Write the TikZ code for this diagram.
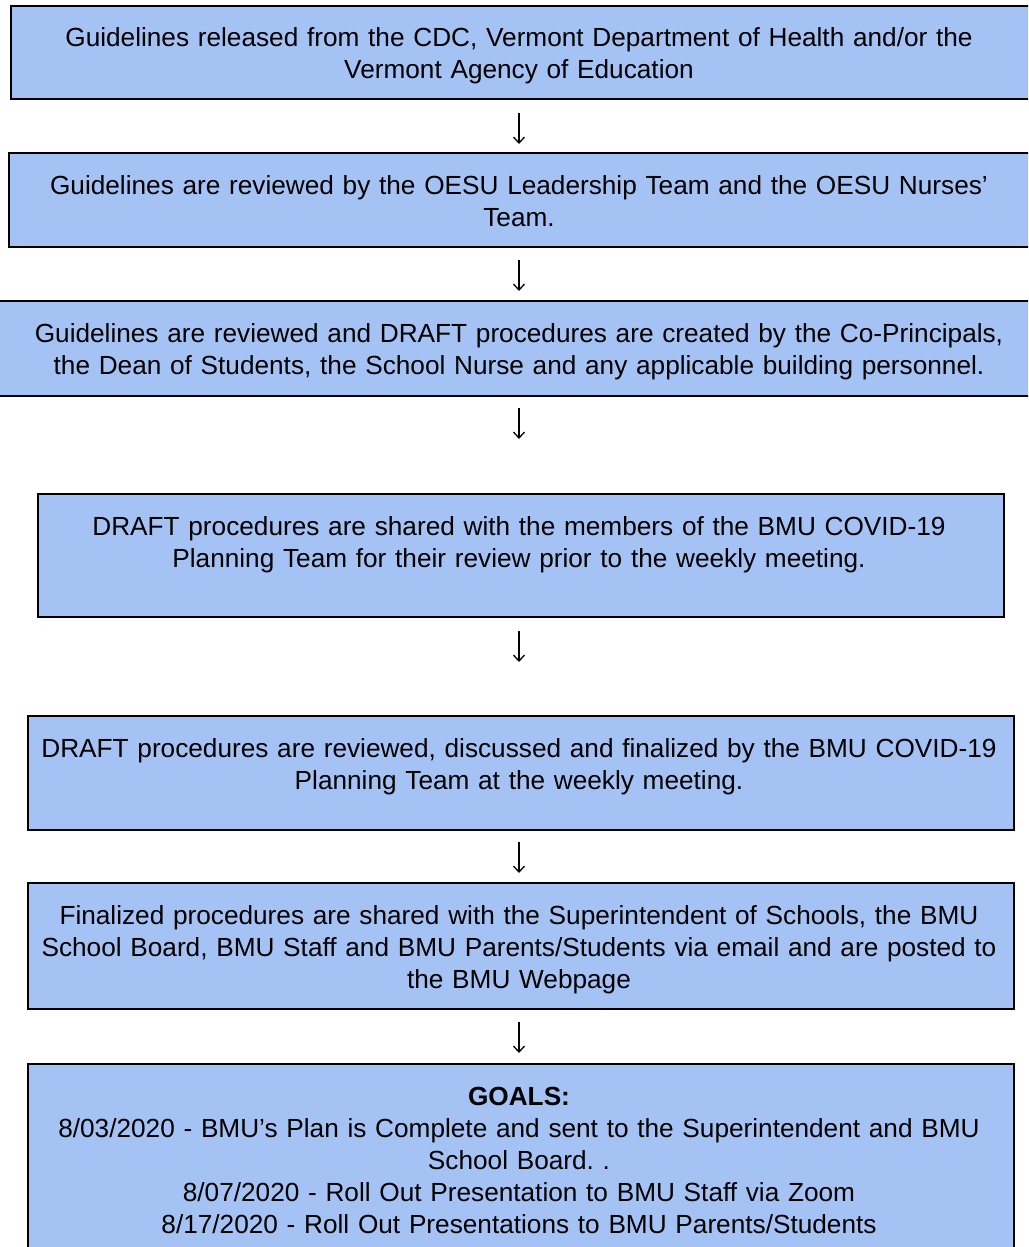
\documentclass[tikz,border=0pt]{standalone}
\usepackage{fontspec}
\setmainfont{Liberation Sans}
\usetikzlibrary{arrows.meta}
\definecolor{stepfill}{HTML}{A4C2F4}
\frenchspacing
\begin{document}
\begin{tikzpicture}[x=1pt,y=-1pt,
  stepbox/.style={draw=black,line width=2.2pt,fill=stepfill,inner sep=0pt,anchor=north west},
  steptext/.style={anchor=base,inner sep=0pt,text width=1010pt,align=center,
    font=\fontsize{26.2}{32}\selectfont},
  flow/.style={line width=1.3pt,-{Straight Barb[length=6pt,width=11pt,line width=1.3pt]}}]
\useasboundingbox (0,0) rectangle (1028,1247);
\clip (0,0) rectangle (1028,1247);

% boxes
\node[stepbox,minimum width=1040pt,minimum height=93pt] (b1) at (10,5) {};
\node[stepbox,minimum width=1040pt,minimum height=94pt] (b2) at (8,152) {};
\node[stepbox,minimum width=1060pt,minimum height=95pt] (b3) at (-15,300) {};
\node[stepbox,minimum width=966pt,minimum height=123pt] (b4) at (37,493) {};
\node[stepbox,minimum width=986pt,minimum height=114pt] (b5) at (27,715) {};
\node[stepbox,minimum width=986pt,minimum height=126pt] (b6) at (27,882) {};
\node[stepbox,minimum width=986pt,minimum height=220pt] (b7) at (27,1063) {};

% texts
\node[steptext] (t1) at (519,47) {Guidelines released from the CDC, Vermont Department of Health and/or the\\Vermont Agency of Education};
\node[steptext] (t2) at (519,194) {Guidelines are reviewed by the OESU Leadership Team and the OESU Nurses’\\Team.};
\node[steptext] (t3) at (519,342) {Guidelines are reviewed and DRAFT procedures are created by the Co-Principals,\\the Dean of Students, the School Nurse and any applicable building personnel.};
\node[steptext] (t4) at (519,535) {DRAFT procedures are shared with the members of the BMU COVID-19\\Planning Team for their review prior to the weekly meeting.};
\node[steptext] (t5) at (519,757) {DRAFT procedures are reviewed, discussed and finalized by the BMU COVID-19\\Planning Team at the weekly meeting.};
\node[steptext] (t6) at (519,924) {Finalized procedures are shared with the Superintendent of Schools, the BMU\\School Board, BMU Staff and BMU Parents/Students via email and are posted to\\the BMU Webpage};
\node[steptext] (t7) at (519,1105) {\textbf{GOALS:}\\8/03/2020 - BMU’s Plan is Complete and sent to the Superintendent and BMU\\School Board. .\\8/07/2020 - Roll Out Presentation to BMU Staff via Zoom\\8/17/2020 - Roll Out Presentations to BMU Parents/Students};

% arrows between the steps
\coordinate (mid) at (519,0);
\draw[flow,shorten <=13pt,shorten >=8pt] (b1.south -| mid) -- (b2.north -| mid);
\draw[flow,shorten <=12pt,shorten >=9pt] (b2.south -| mid) -- (b3.north -| mid);
\draw[flow,shorten <=11pt,shorten >=54pt] (b3.south -| mid) -- (b4.north -| mid);
\draw[flow,shorten <=13pt,shorten >=53pt] (b4.south -| mid) -- (b5.north -| mid);
\draw[flow,shorten <=11pt,shorten >=9pt] (b5.south -| mid) -- (b6.north -| mid);
\draw[flow,shorten <=12pt,shorten >=10pt] (b6.south -| mid) -- (b7.north -| mid);
\end{tikzpicture}
\end{document}
